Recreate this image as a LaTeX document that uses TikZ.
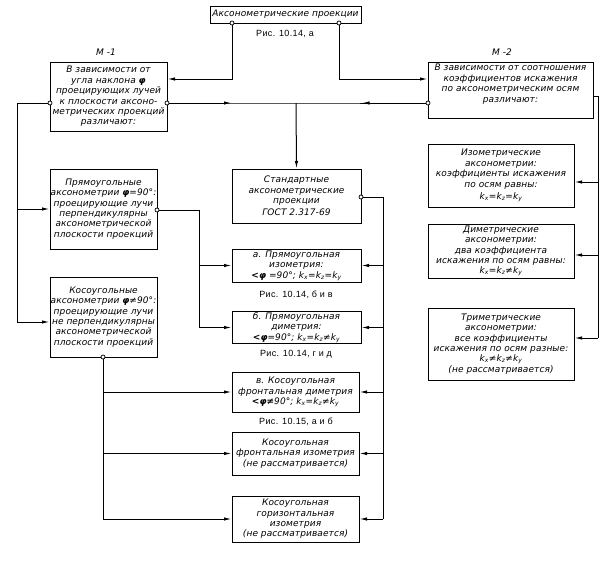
\documentclass[tikz,border=0pt]{standalone}
\usepackage{fontspec}
\setmainfont{DejaVu Sans}[LetterSpace=1]
\newfontfamily\rfont{Liberation Sans}[LetterSpace=4]
\usetikzlibrary{arrows.meta,calc}
\newcommand\gfont{\fontsize{9}{10.4}\selectfont\itshape}
\newcommand\kk[1]{k\textsubscript{#1}}
\newcommand\ph{{\bfseries φ}}
\begin{document}
\begin{tikzpicture}[x=1pt,y=-1pt,
  box/.style={draw, line width=1pt, inner xsep=0pt, inner ysep=0.5pt, align=center, font=\gfont},
  gl/.style={inner sep=0pt, font=\gfont},
  lbl/.style={inner sep=0pt, font=\rfont\fontsize{9}{10}\selectfont},
  dot/.style={circle, draw, fill=white, line width=0.7pt, inner sep=0pt, minimum size=4pt},
  arr/.style={-{Latex[length=7.5pt,width=3.4pt]}},
  every path/.style={line width=1pt}]
\useasboundingbox (0,0) rectangle (605,563);
% boxes
\node[box, minimum width=151pt, minimum height=17pt] (top) at (285.5,14.5) {Аксонометрические проекции};
\node[lbl] (r1) at (285,34) {Рис. 10.14, а};
\node[gl] (mh1) at (106,52) {М -1};
\node[gl] (mh2) at (502,52) {М -2};
\node[box, minimum width=117pt, minimum height=69pt] (m1) at (108.5,96.5)
  {В зависимости от\\угла наклона \ph\\проецирующих лучей\\к плоскости аксоно-\\метрических проекций\\различают:};
\node[box, minimum width=165pt, minimum height=56pt] (m2) at (510.5,90)
  {В зависимости от соотношения\\коэффициентов искажения\\по аксонометрическим осям\\различают:\\[3pt]};
\node[box, minimum width=107pt, minimum height=80pt] (pry) at (103.5,209)
  {Прямоугольные\\аксонометрии \ph=90°:\\проецирующие лучи\\перпендикулярны\\аксонометрической\\плоскости проекций};
\node[box, minimum width=107pt, minimum height=80pt] (kos) at (103.5,317)
  {Косоугольные\\аксонометрии \ph≠90°:\\проецирующие лучи\\не перпендикулярны\\аксонометрической\\плоскости проекций};
\node[box, minimum width=129pt, minimum height=54pt] (std) at (296.5,196)
  {Стандартные\\аксонометрические\\проекции\\[2pt]ГОСТ 2.317-69};
\node[box, minimum width=129pt, minimum height=33pt] (aa) at (296.5,265.5)
  {а. Прямоугольная\\изометрия:\\{\bfseries<φ} =90°; \kk{x}=\kk{z}=\kk{y}};
\node[lbl] (r2) at (296,295) {Рис. 10.14, б и в};
\node[box, minimum width=129pt, minimum height=29pt] (bb) at (296.5,327.5)
  {б. Прямоугольная\\диметрия:\\{\bfseries<φ}=90°; \kk{x}=\kk{z}≠\kk{y}};
\node[lbl] (r3) at (296,354) {Рис. 10.14, г и д};
\node[box, minimum width=127pt, minimum height=40pt] (vv) at (295.5,392)
  {в. Косоугольная\\фронтальная диметрия\\{\bfseries<φ≠}90°; \kk{x}=\kk{z}≠\kk{y}};
\node[lbl] (r4) at (296,422) {Рис. 10.15, а и б};
\node[box, minimum width=127pt, minimum height=43pt] (kfi) at (295.5,453.5)
  {Косоугольная\\фронтальная изометрия\\(не рассматривается)};
\node[box, minimum width=127pt, minimum height=46pt] (kgi) at (295.5,519)
  {Косоугольная\\горизонтальная\\изометрия\\(не рассматривается)};
\node[box, minimum width=146pt, minimum height=63pt] (iso) at (501,175.5)
  {Изометрические\\аксонометрии:\\коэффициенты искажения\\по осям равны:\\[2pt]\kk{x}=\kk{z}=\kk{y}};
\node[box, minimum width=146pt, minimum height=54pt] (dim) at (501,251)
  {Диметрические\\аксонометрии:\\два коэффициента\\искажения по осям равны:\\\kk{x}=\kk{z}≠\kk{y}};
\node[box, minimum width=146pt, minimum height=72pt] (tri) at (501,344)
  {Триметрические\\аксонометрии:\\все коэффициенты\\искажения по осям разные:\\\kk{x}≠\kk{z}≠\kk{y}\\(не рассматривается)};
% connection dots
\node[dot] (d1) at (232,23) {};
\node[dot] (d2) at (339,23) {};
\node[dot] (d3) at (167,103) {};
\node[dot] (d4) at (50,103) {};
\node[dot] (d5) at (428,103) {};
\node[dot] (d6) at (157,210) {};
\node[dot] (d7) at (103,357) {};
\node[dot] (d8) at (361,197) {};
% trunk positions
\coordinate (ja) at (296,103);
\coordinate (xl) at (17,0);
\coordinate (xm) at (199,0);
\coordinate (xr) at (383,0);
\coordinate (xrr) at (598,0);
\coordinate (pk) at ([yshift=-5pt]kos.west);
\coordinate (pi) at ([yshift=-6.5pt]iso.east);
\coordinate (pd) at ([yshift=-4pt]dim.east);
\coordinate (pt) at ([yshift=6pt]tri.east);
\coordinate (m2o) at ([yshift=-6pt]m2.east);
% connectors
\draw[arr] (d1) |- (m1.east |- 0,79);
\draw[arr] (d2) |- (m2.west |- 0,79);
\draw (d3) -- (ja) -- (d5);
\draw[arr] (d3) -- ($(d3.center)!0.5!(ja)$);
\draw[arr] (d5) -- ($(d5.center)!0.5!(ja)$);
\draw[arr] (ja) -- (std.north);
\draw (d4) -| (xl |- pk);
\draw[arr] (xl |- pry.west) -- (pry.west);
\draw[arr] (xl |- pk) -- (pk);
\draw (d6) -| (xm |- bb.west);
\draw[arr] (xm |- aa.west) -- (aa.west);
\draw[arr] (xm |- bb.west) -- (bb.west);
\draw (d7) -- (d7 |- kgi.west);
\draw[arr] (d7 |- vv.west) -- (vv.west);
\draw[arr] (d7 |- kfi.west) -- (kfi.west);
\draw[arr] (d7 |- kgi.west) -- (kgi.west);
\draw (d8) -| (xr |- kgi.east);
\draw[arr] (xr |- aa.east) -- (aa.east);
\draw[arr] (xr |- bb.east) -- (bb.east);
\draw[arr] (xr |- vv.east) -- (vv.east);
\draw[arr] (xr |- kfi.east) -- (kfi.east);
\draw[arr] (xr |- kgi.east) -- (kgi.east);
\draw (m2o) -| (xrr |- pt);
\draw[arr] (xrr |- pi) -- (pi);
\draw[arr] (xrr |- pd) -- (pd);
\draw[arr] (xrr |- pt) -- (pt);
\end{tikzpicture}
\end{document}
